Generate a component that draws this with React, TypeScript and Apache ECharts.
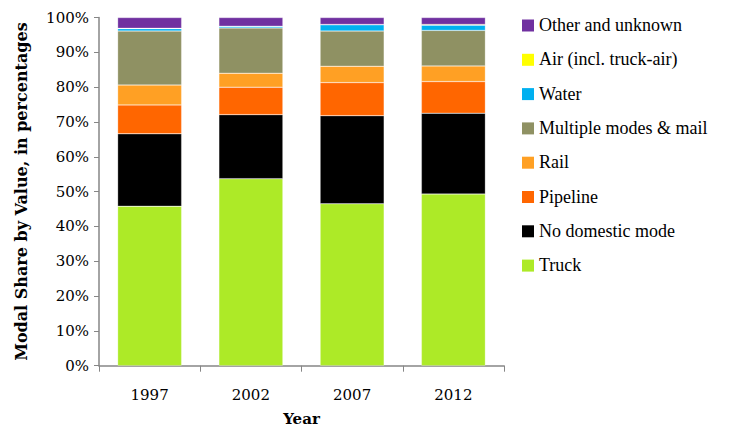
import React, { useEffect, useRef } from "react";
import * as echarts from "echarts";

const years = ["1997", "2002", "2007", "2012"];
const truck = [45.8, 53.7, 46.5, 49.3];
const noDomestic = [20.8, 18.4, 25.3, 23.2];
const pipeline = [8.3, 7.9, 9.5, 9.1];
const rail = [5.7, 4.0, 4.7, 4.5];
const multiple = [15.5, 13.0, 10.1, 10.2];
const water = [0.7, 0.4, 1.8, 1.5];
const air = [0.1, 0.1, 0.1, 0.2];
const other = [3.1, 2.5, 2.0, 2.0];

const seriesDefs = [
  { name: "Truck", data: truck, color: "#ADEA27" },
  { name: "No domestic mode", data: noDomestic, color: "#000000" },
  { name: "Pipeline", data: pipeline, color: "#FF6600" },
  { name: "Rail", data: rail, color: "#FFA024" },
  { name: "Multiple modes & mail", data: multiple, color: "#8F9163" },
  { name: "Water", data: water, color: "#00B0F0" },
  { name: "Air (incl. truck-air)", data: air, color: "#FFFF00" },
  { name: "Other and unknown", data: other, color: "#7030A0" },
];

const FONT = "DejaVu Serif";
const LEGEND_FONT = "serif";

export default function App() {
  const ref = useRef<HTMLDivElement>(null);
  useEffect(() => {
    if (!ref.current) return;
    const chart = echarts.init(ref.current, null, { renderer: "svg" });
    const legendItems = seriesDefs.slice().reverse();
    const legendGraphics = legendItems.map((s, i) => ({
      type: "group",
      x: 522,
      y: 25 + 34.3 * i,
      children: [
        { type: "rect", shape: { x: 0, y: -5.5, width: 12, height: 12 }, style: { fill: s.color } },
        {
          type: "text",
          x: 17,
          y: 0,
          style: {
            text: s.name,
            fill: "#000",
            fontFamily: LEGEND_FONT,
            fontSize: 18,
            verticalAlign: "middle",
            align: "left",
          },
        },
      ],
    }));
    chart.setOption({
      animation: false,
      backgroundColor: "#ffffff",
      textStyle: { fontFamily: FONT, fontSize: 15, color: "#000" },
      grid: { left: 99, right: 229, top: 17.5, bottom: 61.3, containLabel: false, outerBoundsMode: "none" },
      graphic: legendGraphics,
      xAxis: {
        type: "category",
        data: years,
        name: "Year",
        nameLocation: "middle",
        nameGap: 46,
        nameTextStyle: { fontFamily: FONT, fontSize: 15, fontWeight: "bold", color: "#000" },
        axisLine: { lineStyle: { color: "#868686", width: 1.5 } },
        axisTick: { show: true, length: 6, alignWithLabel: false, lineStyle: { color: "#868686" } },
        axisLabel: { fontFamily: FONT, fontSize: 15, color: "#000", margin: 22 },
      },
      yAxis: {
        type: "value",
        min: 0,
        max: 100,
        interval: 10,
        name: "Modal Share by Value, in percentages",
        nameLocation: "middle",
        nameGap: 70,
        nameTextStyle: { fontFamily: FONT, fontSize: 16, fontWeight: "bold", color: "#000" },
        axisLine: { show: true, lineStyle: { color: "#868686", width: 1.5 } },
        axisTick: { show: true, length: 5, lineStyle: { color: "#868686" } },
        splitLine: { show: false },
        axisLabel: { fontFamily: FONT, fontSize: 15, color: "#000", margin: 10, formatter: "{value}%" },
      },
      series: seriesDefs.map((s) => ({
        name: s.name,
        type: "bar",
        stack: "total",
        data: s.data,
        barWidth: 64,
        itemStyle: { color: s.color, borderColor: "rgba(255,255,255,0.5)", borderWidth: 0.5 },
      })),
    });
    return () => chart.dispose();
  }, []);
  return <div ref={ref} style={{ width: 733, height: 427, position: "absolute", left: 0, top: 0 }} />;
}
